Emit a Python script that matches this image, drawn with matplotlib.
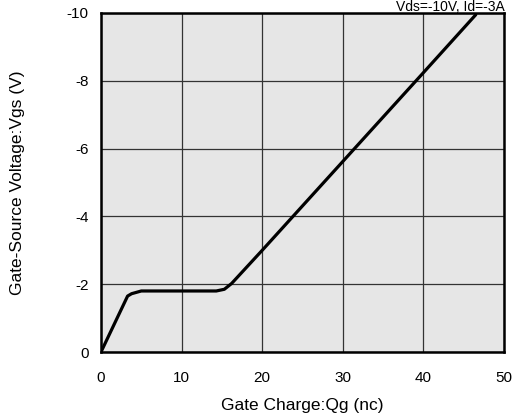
import matplotlib
matplotlib.use("Agg")
import matplotlib.pyplot as plt

qg = [0, 3.3, 3.8, 5.0, 10.0, 14.3, 15.3, 16.2, 20.0, 30.0, 40.0, 46.5]
vgs = [0, -1.65, -1.72, -1.8, -1.8, -1.8, -1.85, -2.02, -3.0, -5.62, -8.24, -9.95]
xticks = [0, 10, 20, 30, 40, 50]
yticks = [0, -2, -4, -6, -8, -10]
note = "Vds=-10V, Id=-3A"

plt.rcParams['font.family'] = ['Liberation Sans', 'DejaVu Sans']
fig = plt.figure(figsize=(5.13, 4.2), dpi=100)
ax = fig.add_axes([101/513, 68/420, 403/513, 339/420])
ax.set_facecolor('#e6e6e6')
ax.plot(qg, vgs, color='black', lw=2.3, solid_joinstyle='round', solid_capstyle='round')
ax.set_xlim(0, 50)
ax.set_ylim(0, -10)
ax.set_xticks(xticks)
ax.set_yticks(yticks)
ax.set_xticklabels([str(t) for t in xticks])
ax.set_yticklabels([str(t) for t in yticks])
ax.grid(True, color='#333333', lw=0.9)
ax.set_axisbelow(True)
ax.tick_params(length=0, labelsize=11, pad=9)
ax.tick_params(axis='x', pad=14)
for s in ax.spines.values():
    s.set_linewidth(1.8)
ax.set_xlabel('Gate Charge:Qg (nc)', fontsize=12.5, labelpad=9)
ax.set_ylabel('Gate-Source Voltage:Vgs (V)', fontsize=12.5, labelpad=30)
fig.text(505/513, 0.999, note, ha='right', va='top', fontsize=10)
fig.savefig('out.png', dpi=100)
